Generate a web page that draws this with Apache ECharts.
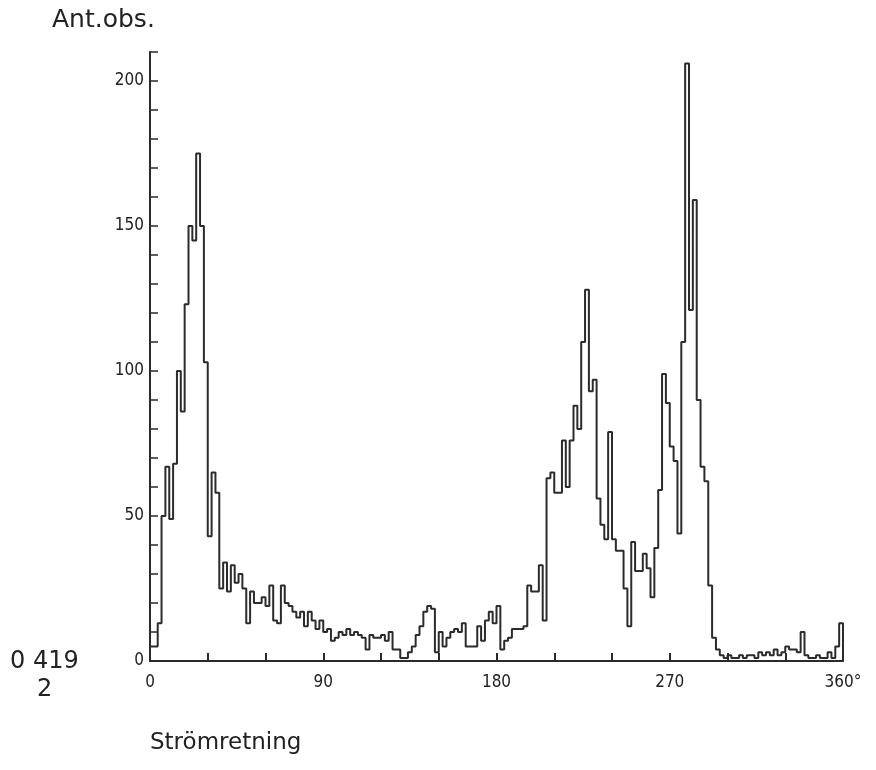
<!DOCTYPE html>
<html>
<head>
<meta charset="utf-8">
<script src="https://cdn.jsdelivr.net/npm/echarts@6/dist/echarts.min.js"></script>
<style>
html,body{margin:0;padding:0;background:#fff;}
#c{width:876px;height:770px;}
</style>
</head>
<body>
<div id="c"></div>
<script>
// Bin width in degrees (histogram of current direction, 2° classes)
const binWidth = 2;
// Counts (Ant.obs.) per 2° class
const counts0to90 = [5,5,13,50,67,49,68,100,86,123, 150,145,175,150,103,43,65,58,25,34, 24,33,27,30,25,13,24,20,20,22, 19,26,14,13,26,20,19,17,15,17, 12,17,14,11,14];
const counts90to180 = [10,11,7,8,10,9,11,9,10,9, 8,4,9,8,8,9,7,10,4,4, 1,1,3,5,9,12,17,19,18,3, 10,5,8,10,11,10,13,5,5,5, 12,7,14,17,13];
const counts180to270 = [19,4,7,8,11,11,11,12,26,24, 24,33,14,63,65,58,58,76,60,76, 88,80,110,128,93,97,56,47,42,79, 42,38,38,25,12,41,31,31,37,32, 22,39,59,99,89];
const counts270to360 = [74,69,44,110,206,121,159,90,67,62, 26,8,4,2,1,2,1,1,2,1, 2,2,1,3,2,3,2,4,2,3, 5,4,4,3,10,2,1,1,2,1, 1,3,1,5,13];
const xTickLabels = ['0','90','180','270','360°'];
const yTickLabels = ['0','50','100','150','200'];

const counts = counts0to90.concat(counts90to180, counts180to270, counts270to360);
const stepData = counts.map((v, i) => [i * binWidth, v]);
const last = counts[counts.length - 1];
stepData.push([counts.length * binWidth, last]);
stepData.push([counts.length * binWidth, 0]);

const chart = echarts.init(document.getElementById('c'), null, {renderer: 'canvas'});
const lblFont = '"Liberation Sans Narrow","DejaVu Sans Condensed","DejaVu Sans",sans-serif';
const txtFont = '"DejaVu Sans",sans-serif';
chart.setOption({
  backgroundColor: '#ffffff',
  animation: false,
  grid: {left: 150, right: 33, top: 52, bottom: 109, containLabel: false},
  xAxis: {
    type: 'value', min: 0, max: 360, interval: 30,
    axisLine: {show: true, lineStyle: {color: '#2a2a2a', width: 2}},
    axisTick: {show: true, inside: true, length: 8, lineStyle: {color: '#2a2a2a', width: 2}},
    splitLine: {show: false},
    axisLabel: {
      margin: 13, color: '#222', fontSize: 17, fontFamily: lblFont,
      formatter: function (v) { const i = v / 90; return Number.isInteger(i) ? xTickLabels[i] : ''; }
    }
  },
  yAxis: {
    type: 'value', min: 0, max: 210, interval: 10,
    axisLine: {show: true, lineStyle: {color: '#2a2a2a', width: 2}},
    axisTick: {show: true, inside: true, length: 8, lineStyle: {color: '#2a2a2a', width: 1.5}},
    splitLine: {show: false},
    axisLabel: {
      margin: 6, color: '#222', fontSize: 17, fontFamily: lblFont,
      formatter: function (v) { const i = v / 50; return Number.isInteger(i) ? yTickLabels[i] : ''; }
    }
  },
  graphic: [
    {type: 'text', left: 52, top: 8, style: {text: 'Ant.obs.', fontSize: 25, fontFamily: txtFont, fill: '#222'}},
    {type: 'text', left: 150, top: 732, style: {text: 'Strömretning', fontSize: 23, fontFamily: txtFont, fill: '#222'}},
    {type: 'text', left: 10, top: 650, style: {text: '0 419', fontSize: 24, fontFamily: txtFont, fill: '#222'}},
    {type: 'text', left: 37, top: 678, style: {text: '2', fontSize: 24, fontFamily: txtFont, fill: '#222'}}
  ],
  series: [{
    type: 'line', step: 'end', data: stepData, showSymbol: false, silent: true,
    lineStyle: {color: '#2b2b2b', width: 2}
  }]
});
</script>
</body>
</html>
